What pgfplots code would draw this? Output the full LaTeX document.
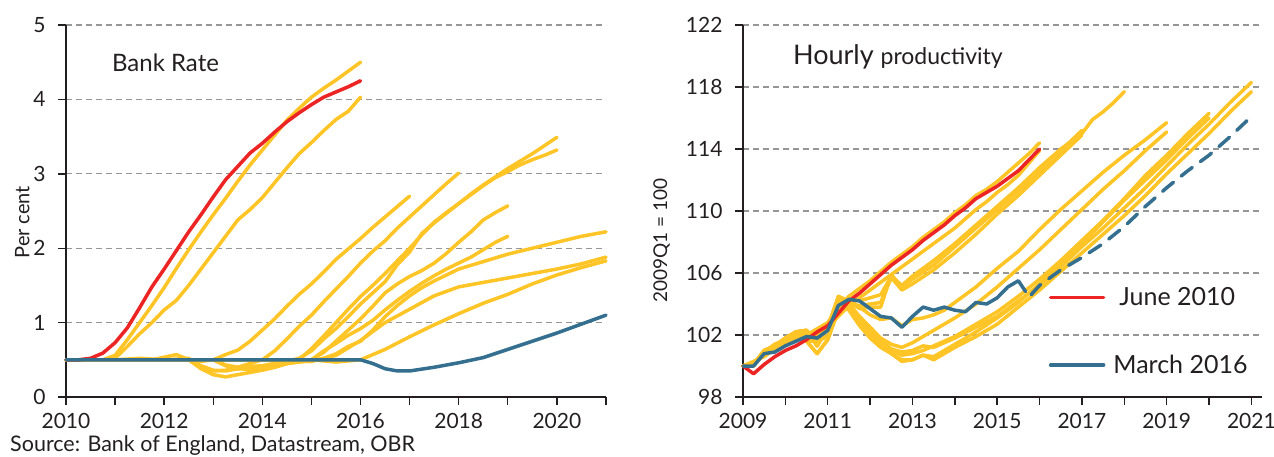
\documentclass[border=0pt]{standalone}
\usepackage{fontspec}
\setmainfont{Lato}
\usepackage{pgfplots}
\pgfplotsset{compat=1.18}
\definecolor{obryel}{RGB}{255,196,37}
\definecolor{obrred}{RGB}{237,36,36}
\definecolor{obrblue}{RGB}{52,111,143}
\definecolor{txt}{RGB}{35,31,32}
\definecolor{gridc}{RGB}{150,150,150}
\pgfplotsset{
  obr/.style={
    scale only axis, height=372pt,
    axis x line=bottom, axis y line=left,
    axis line style={-, txt, line width=1.6pt},
    tick align=outside, major tick length=8pt,
    tick style={txt, line width=1.4pt},
    ymajorgrids, grid style={gridc, dashed, line width=1.3pt, dash pattern=on 6pt off 4pt},
    ytick pos=left, xtick pos=bottom,
    /pgf/number format/assume math mode=true,
    /pgf/number format/1000 sep={},
    tick label style={font=\fontsize{21}{24}\selectfont, text=txt},
    xticklabel style={yshift=-5pt},
    yticklabel style={xshift=-9pt},
    every axis plot/.append style={line width=3.5pt, line join=round, line cap=round},
    clip=false,
  },
  yel/.style={obryel, forget plot},
}
\begin{document}
\begin{tikzpicture}
\path[use as bounding box] (-66pt,-59pt) rectangle (1208pt,397pt);
% ---------------- Left panel: Bank Rate ----------------
\begin{axis}[obr, at={(0pt,0pt)}, anchor=south west, width=540pt,
  xmin=2010, xmax=2021, ymin=0, ymax=5,
  xtick={2010,...,2021}, xticklabels={2010,,2012,,2014,,2016,,2018,,2020,},
  ytick={0,1,2,3,4,5},
  ylabel={Per cent}, ylabel style={at={(axis description cs:-0.081,0.47)}, anchor=center, font=\fontsize{20}{22}\selectfont, text=txt},
]
\addplot[yel] coordinates {(2010,0.5)(2010.5,0.5)(2010.75,0.5)(2011,0.56)(2011.25,0.77)(2011.5,1.0)(2011.75,1.23)(2012,1.47)(2012.25,1.73)(2012.5,1.98)(2012.75,2.22)(2013,2.45)(2013.25,2.67)(2013.5,2.9)(2013.75,3.12)(2014,3.32)(2014.25,3.52)(2014.5,3.72)(2014.75,3.88)(2015,4.03)(2015.25,4.15)(2015.5,4.26)(2015.75,4.38)(2016,4.5)};
\addplot[yel] coordinates {(2010,0.5)(2010.75,0.5)(2011,0.52)(2011.25,0.68)(2011.5,0.85)(2011.75,1.0)(2012,1.17)(2012.25,1.3)(2012.5,1.5)(2012.75,1.72)(2013,1.94)(2013.25,2.16)(2013.5,2.38)(2013.75,2.52)(2014,2.68)(2014.25,2.88)(2014.5,3.08)(2014.75,3.27)(2015,3.42)(2015.25,3.58)(2015.5,3.73)(2015.75,3.84)(2016,4.03)};
\addplot[yel] coordinates {(2010,0.5)(2011,0.5)(2011.5,0.52)(2012,0.5)(2012.5,0.5)(2012.75,0.48)(2013,0.5)(2013.25,0.57)(2013.5,0.63)(2013.75,0.75)(2014,0.9)(2014.25,1.05)(2014.5,1.22)(2014.75,1.38)(2015,1.52)(2015.25,1.68)(2015.5,1.85)(2015.75,1.99)(2016,2.13)(2016.25,2.28)(2016.5,2.42)(2016.75,2.56)(2017,2.7)};
\addplot[yel] coordinates {(2010,0.5)(2012,0.5)(2012.5,0.52)(2012.75,0.4)(2013,0.35)(2013.25,0.36)(2013.5,0.4)(2013.75,0.45)(2014,0.5)(2014.25,0.62)(2014.5,0.78)(2014.75,0.95)(2015,1.1)(2015.25,1.28)(2015.5,1.45)(2015.75,1.62)(2016,1.8)(2016.25,1.96)(2016.5,2.1)(2016.75,2.27)(2017,2.42)(2017.25,2.57)(2017.5,2.72)(2017.75,2.87)(2018,3.01)};
\addplot[yel] coordinates {(2010,0.5)(2011.75,0.5)(2012.25,0.57)(2012.5,0.5)(2012.75,0.38)(2013,0.3)(2013.25,0.27)(2013.5,0.3)(2013.75,0.33)(2014,0.36)(2014.25,0.4)(2014.5,0.45)(2014.75,0.5)(2015,0.65)(2015.25,0.82)(2015.5,1.0)(2015.75,1.18)(2016,1.35)(2016.25,1.5)(2016.5,1.66)(2016.75,1.83)(2017,2.0)(2017.25,2.18)(2017.5,2.35)(2017.75,2.48)(2018,2.6)(2018.25,2.73)(2018.5,2.85)(2018.75,2.96)(2019,3.07)(2019.25,3.17)(2019.5,3.27)(2019.75,3.38)(2020,3.49)};
\addplot[yel] coordinates {(2010,0.5)(2012.5,0.5)(2012.75,0.42)(2013,0.36)(2013.25,0.35)(2013.5,0.38)(2013.75,0.4)(2014,0.42)(2014.25,0.45)(2014.5,0.48)(2014.75,0.52)(2015,0.62)(2015.25,0.78)(2015.5,0.92)(2015.75,1.08)(2016,1.25)(2016.25,1.4)(2016.5,1.55)(2016.75,1.78)(2017,1.95)(2017.25,2.2)(2017.5,2.34)(2017.75,2.47)(2018,2.6)(2018.25,2.72)(2018.5,2.84)(2018.75,2.95)(2019,3.03)(2019.25,3.12)(2019.5,3.19)(2019.75,3.25)(2020,3.32)};
\addplot[yel] coordinates {(2010,0.5)(2013,0.5)(2013.25,0.42)(2013.5,0.38)(2013.75,0.37)(2014,0.38)(2014.25,0.4)(2014.5,0.45)(2014.75,0.47)(2015,0.5)(2015.25,0.6)(2015.5,0.75)(2015.75,0.9)(2016,1.05)(2016.25,1.22)(2016.5,1.4)(2016.75,1.52)(2017,1.62)(2017.25,1.7)(2017.5,1.8)(2017.75,1.93)(2018,2.08)(2018.25,2.22)(2018.5,2.38)(2018.75,2.48)(2019,2.57)};
\addplot[yel] coordinates {(2010,0.5)(2013,0.5)(2013.25,0.43)(2013.5,0.4)(2014,0.42)(2014.5,0.45)(2015,0.5)(2015.25,0.62)(2015.5,0.72)(2015.75,0.83)(2016,0.92)(2016.25,1.03)(2016.5,1.17)(2016.75,1.3)(2017,1.42)(2017.25,1.53)(2017.5,1.63)(2017.75,1.72)(2018,1.8)(2018.25,1.88)(2018.5,1.98)(2018.75,2.08)(2019,2.16)};
\addplot[yel] coordinates {(2010,0.5)(2014,0.5)(2014.5,0.48)(2015,0.48)(2015.25,0.52)(2015.5,0.58)(2015.75,0.68)(2016,0.75)(2016.25,0.9)(2016.5,1.08)(2016.75,1.23)(2017,1.36)(2017.25,1.47)(2017.5,1.56)(2017.75,1.64)(2018,1.72)(2018.5,1.82)(2019,1.92)(2019.5,2.0)(2020,2.08)(2020.5,2.16)(2021,2.22)};
\addplot[yel] coordinates {(2010,0.5)(2014,0.5)(2014.5,0.47)(2015,0.48)(2015.5,0.56)(2016,0.76)(2016.5,1.0)(2017,1.18)(2017.5,1.36)(2018,1.48)(2018.5,1.54)(2019,1.6)(2019.5,1.66)(2020,1.72)(2020.5,1.79)(2021,1.88)};
\addplot[yel] coordinates {(2010,0.5)(2015,0.5)(2015.5,0.47)(2016,0.5)(2016.5,0.64)(2017,0.81)(2017.5,0.97)(2018,1.12)(2018.5,1.26)(2019,1.38)(2019.5,1.52)(2020,1.64)(2020.5,1.74)(2021,1.83)};
% June 2010
\addplot[obrred, forget plot] coordinates {(2010,0.5)(2010.25,0.5)(2010.5,0.52)(2010.75,0.59)(2011,0.73)(2011.25,0.93)(2011.5,1.2)(2011.75,1.48)(2012,1.72)(2012.25,1.97)(2012.5,2.22)(2012.75,2.45)(2013,2.69)(2013.25,2.92)(2013.5,3.1)(2013.75,3.28)(2014,3.41)(2014.25,3.56)(2014.5,3.7)(2014.75,3.82)(2015,3.93)(2015.25,4.03)(2015.5,4.1)(2015.75,4.17)(2016,4.25)};
% March 2016
\addplot[obrblue, forget plot] coordinates {(2010,0.5)(2016,0.5)(2016.25,0.45)(2016.5,0.38)(2016.75,0.35)(2017,0.35)(2017.5,0.4)(2018,0.46)(2018.5,0.53)(2019,0.64)(2019.5,0.75)(2020,0.86)(2020.5,0.98)(2021,1.1)};
\node[anchor=west, font=\fontsize{24}{28}\selectfont, text=txt, inner sep=0pt] at (axis description cs:0.085,0.898) {Bank Rate};
\end{axis}
\node[anchor=west, font=\fontsize{21.5}{24}\selectfont, text=txt, inner sep=0pt] at (-56pt,-49pt) {Source: Bank of England, Datastream, OBR};
% ---------------- Right panel: Hourly productivity ----------------
\begin{axis}[obr, at={(677pt,0pt)}, anchor=south west, width=519pt,
  xmin=2009, xmax=2021.25, ymin=98, ymax=122,
  xtick={2009,...,2021}, xticklabels={2009,,2011,,2013,,2015,,2017,,2019,,2021},
  ytick={98,102,...,122},
  ylabel={2009Q1 = 100}, ylabel style={at={(axis description cs:-0.157,0.42)}, anchor=center, font=\fontsize{19}{22}\selectfont, text=txt},
  legend style={at={(axis description cs:0.589,0.30)}, anchor=north west, draw=none, fill=none, font=\fontsize{25}{28}\selectfont, text=txt, row sep=44pt, inner sep=0pt},
  legend cell align=left,
  legend image code/.code={\draw[#1, line width=3.5pt] (0pt,0pt) -- (53pt,0pt);},
]
% upper group (early vintages)
\addplot[yel] coordinates {(2009,100)(2009.25,100.0)(2009.5,100.9)(2009.75,101.4)(2010,101.7)(2010.25,102.2)(2010.5,102.0)(2010.75,102.4)(2011,102.8)(2011.25,103.8)(2011.5,104.5)(2011.75,105.0)(2012,105.5)(2012.25,106.1)(2012.5,106.7)(2012.75,107.2)(2013,107.7)(2013.25,108.3)(2013.5,108.8)(2013.75,109.3)(2014,109.9)(2014.25,110.4)(2014.5,111.0)(2014.75,111.4)(2015,111.9)(2015.25,112.5)(2015.5,113.1)(2015.75,113.7)(2016,114.4)};
\addplot[yel] coordinates {(2009,100)(2009.25,100.3)(2009.5,100.6)(2009.75,101.1)(2010,101.4)(2010.25,102.0)(2010.5,101.9)(2010.75,102.1)(2011,102.5)(2011.25,103.2)(2011.5,103.9)(2011.75,104.4)(2012,104.9)(2012.25,105.4)(2012.5,105.9)(2012.75,106.4)(2013,106.9)(2013.25,107.4)(2013.5,107.9)(2013.75,108.4)(2014,108.9)(2014.25,109.5)(2014.5,110.1)(2014.75,110.6)(2015,111.2)(2015.25,111.7)(2015.5,112.3)(2015.75,113.1)(2016,113.9)};
\addplot[yel] coordinates {(2009,100)(2009.25,100.1)(2009.5,101.0)(2009.75,101.3)(2010,101.8)(2010.25,102.2)(2010.5,102.3)(2010.75,101.3)(2011,102.5)(2011.25,104.4)(2011.5,104.2)(2011.75,103.7)(2012,103.8)(2012.25,103.8)(2012.5,105.9)(2012.75,105.1)(2013,105.6)(2013.5,106.5)(2014,107.7)(2014.5,108.9)(2015,110.1)(2015.5,111.3)(2016,112.5)(2016.5,113.9)(2017,115.2)};
\addplot[yel] coordinates {(2009,100)(2009.25,100.2)(2009.5,100.7)(2009.75,101.2)(2010,101.4)(2010.25,101.8)(2010.5,101.6)(2010.75,100.8)(2011,101.7)(2011.25,103.6)(2011.5,104.0)(2011.75,103.9)(2012,104.0)(2012.25,104.1)(2012.5,105.7)(2012.75,104.9)(2013,105.3)(2013.5,106.2)(2014,107.3)(2014.5,108.5)(2015,109.8)(2015.5,111.0)(2016,112.3)(2016.5,113.6)(2017,114.9)};
\addplot[yel] coordinates {(2009,100)(2009.25,100.2)(2009.5,100.8)(2009.75,101.4)(2010,101.6)(2010.25,102.1)(2010.5,102.2)(2010.75,102.0)(2011,102.3)(2011.25,104.0)(2011.5,104.3)(2011.75,104.2)(2012,104.4)(2012.25,104.6)(2012.5,105.8)(2012.75,105.2)(2013,105.8)(2013.5,106.8)(2014,107.9)(2014.5,109.1)(2015,110.3)(2015.5,111.5)(2016,112.8)(2016.5,114.0)(2017,115.0)(2017.25,115.9)(2017.5,116.4)(2017.75,117.0)(2018,117.7)};
% lower group (later vintages)
\addplot[yel] coordinates {(2009,100)(2009.25,100.1)(2009.5,101.0)(2009.75,101.3)(2010,101.8)(2010.25,102.2)(2010.5,102.3)(2010.75,101.3)(2011,102.5)(2011.25,104.4)(2011.5,104.2)(2011.75,103.8)(2012,103.3)(2012.25,103.0)(2012.5,103.1)(2012.75,102.6)(2013,103.0)(2013.25,103.1)(2013.5,103.3)(2013.75,103.6)(2014,104.1)(2014.5,105.1)(2015,106.3)(2015.5,107.4)(2016,108.8)(2016.5,110.1)(2017,111.3)(2017.5,112.5)(2018,113.6)(2018.5,114.6)(2019,115.7)};
\addplot[yel] coordinates {(2009,100)(2009.25,100.2)(2009.5,100.7)(2009.75,101.2)(2010,101.4)(2010.25,101.8)(2010.5,101.6)(2010.75,100.8)(2011,101.7)(2011.25,103.6)(2011.5,104.0)(2011.75,103.2)(2012,102.5)(2012.25,101.8)(2012.5,101.4)(2012.75,101.2)(2013,101.5)(2013.25,101.9)(2013.5,102.3)(2013.75,102.7)(2014,103.1)(2014.5,104.0)(2015,105.1)(2015.5,106.3)(2016,107.5)(2016.5,108.8)(2017,110.1)(2017.5,111.4)(2018,112.6)(2018.5,113.9)(2019,115.1)};
\addplot[yel] coordinates {(2009,100)(2009.25,100.1)(2009.5,101.0)(2009.75,101.3)(2010,101.8)(2010.25,102.2)(2010.5,102.3)(2010.75,101.3)(2011,102.5)(2011.25,104.2)(2011.5,103.8)(2011.75,102.9)(2012,102.0)(2012.25,101.4)(2012.5,101.0)(2012.75,100.7)(2013,100.8)(2013.25,101.0)(2013.5,101.3)(2013.75,101.6)(2014,101.9)(2014.5,102.7)(2015,103.5)(2015.5,104.5)(2016,105.6)(2016.5,106.8)(2017,108.1)(2017.5,109.4)(2018,110.8)(2018.5,112.3)(2019,113.6)(2019.5,115.0)(2020,116.3)};
\addplot[yel] coordinates {(2009,100)(2009.25,100.2)(2009.5,100.7)(2009.75,101.2)(2010,101.4)(2010.25,101.8)(2010.5,101.6)(2010.75,101.6)(2011,101.9)(2011.25,104.0)(2011.5,103.6)(2011.75,102.6)(2012,101.8)(2012.25,101.2)(2012.5,100.8)(2012.75,100.4)(2013,100.4)(2013.25,100.7)(2013.5,100.6)(2013.75,101.0)(2014,101.4)(2014.5,102.2)(2015,103.1)(2015.5,104.1)(2016,105.3)(2016.5,106.6)(2017,107.9)(2017.5,109.3)(2018,110.7)(2018.5,112.0)(2019,113.3)(2019.5,114.7)(2020,116.0)};
\addplot[yel] coordinates {(2009,100)(2009.25,100.2)(2009.5,100.8)(2009.75,101.4)(2010,101.6)(2010.25,102.1)(2010.5,102.2)(2010.75,102.0)(2011,102.3)(2011.25,104.3)(2011.5,104.0)(2011.75,103.1)(2012,102.2)(2012.25,101.6)(2012.5,101.1)(2012.75,100.9)(2013,101.0)(2013.25,101.3)(2013.5,101.2)(2013.75,101.5)(2014,101.8)(2014.5,102.5)(2015,103.2)(2015.5,104.2)(2016,105.2)(2016.5,106.4)(2017,107.7)(2017.5,108.9)(2018,110.2)(2018.5,111.5)(2019,112.9)(2019.5,114.3)(2020,115.6)(2020.5,117.0)(2021,118.3)};
\addplot[yel] coordinates {(2009,100)(2009.25,100.1)(2009.5,101.0)(2009.75,101.3)(2010,101.8)(2010.25,102.2)(2010.5,102.3)(2010.75,101.3)(2011,102.5)(2011.25,104.5)(2011.5,104.2)(2011.75,103.0)(2012,102.0)(2012.25,101.3)(2012.5,100.8)(2012.75,100.3)(2013,100.4)(2013.25,100.7)(2013.5,100.4)(2013.75,100.8)(2014,101.2)(2014.5,101.9)(2015,102.7)(2015.5,103.8)(2016,104.9)(2016.5,106.1)(2017,107.3)(2017.5,108.5)(2017.75,109.1)(2018,109.7)(2018.5,111.0)(2019,112.4)(2019.5,113.7)(2020,115.0)(2020.5,116.4)(2021,117.7)};
% June 2010
\addplot[obrred, forget plot] coordinates {(2009,100)(2009.25,99.5)(2009.5,100.1)(2009.75,100.6)(2010,101.0)(2010.25,101.3)(2010.5,101.7)(2010.75,102.2)(2011,102.6)(2011.25,103.4)(2011.5,104.2)(2011.75,104.7)(2012,105.3)(2012.25,105.9)(2012.5,106.5)(2012.75,107.0)(2013,107.5)(2013.25,108.1)(2013.5,108.6)(2013.75,109.1)(2014,109.7)(2014.25,110.2)(2014.5,110.8)(2014.75,111.2)(2015,111.6)(2015.25,112.1)(2015.5,112.6)(2015.75,113.3)(2016,114.0)};
% March 2016 outturn
\addplot[obrblue, forget plot] coordinates {(2009,100)(2009.25,100)(2009.5,100.8)(2009.75,100.9)(2010,101.3)(2010.25,101.6)(2010.5,101.9)(2010.75,101.8)(2011,102.3)(2011.25,103.9)(2011.5,104.3)(2011.75,104.2)(2012,103.7)(2012.25,103.2)(2012.5,103.1)(2012.75,102.5)(2013,103.2)(2013.25,103.8)(2013.5,103.6)(2013.75,103.8)(2014,103.6)(2014.25,103.5)(2014.5,104.1)(2014.75,104.0)(2015,104.4)(2015.25,105.1)(2015.5,105.5)(2015.67,104.8)};
% March 2016 forecast
\addplot[obrblue, forget plot, dash pattern=on 14pt off 10pt] coordinates {(2015.8,104.6)(2016,105.2)(2016.5,106.2)(2017,107.0)(2017.5,107.9)(2018,109.0)(2018.5,110.3)(2019,111.5)(2019.5,112.6)(2020,113.6)(2020.5,114.8)(2021,116.1)};
\addlegendimage{obrred}
\addlegendentry{\hspace{12pt}June 2010}
\addlegendimage{obrblue}
\addlegendentry{\hspace{6pt}March 2016}
\node[anchor=west, text=txt, inner sep=0pt] at (axis description cs:0.096,0.914) {\fontsize{27}{30}\selectfont Hourly \fontsize{23}{26}\selectfont productivity};
\end{axis}
\end{tikzpicture}
\end{document}
